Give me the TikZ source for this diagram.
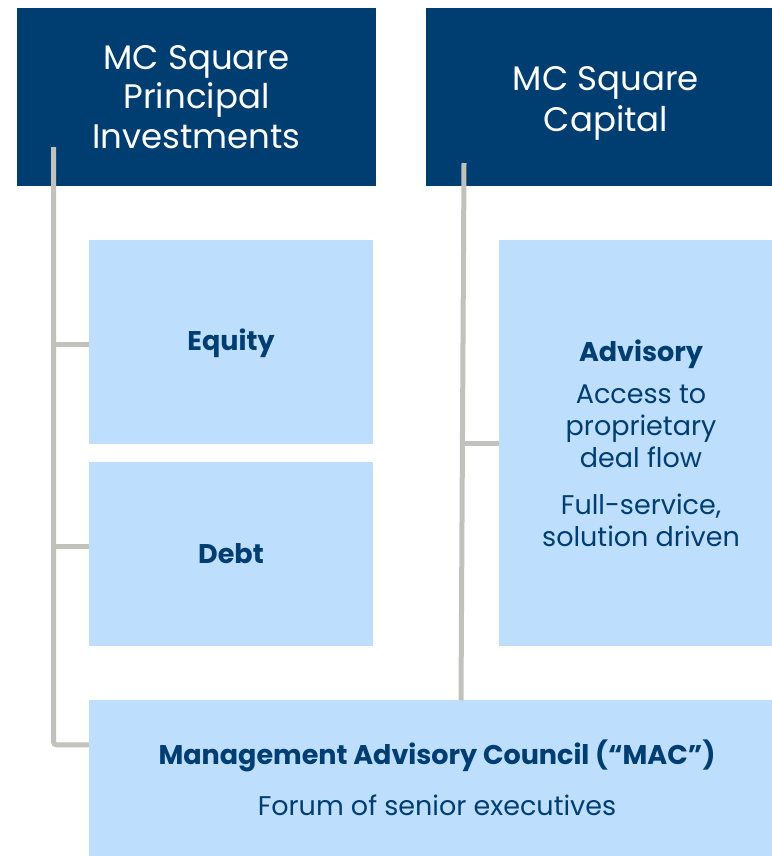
\documentclass[tikz,border=0pt]{standalone}
\usepackage{fontspec}
\setmainfont{Poppins}
\usetikzlibrary{calc}
\definecolor{navy}{RGB}{0,62,114}
\definecolor{pale}{RGB}{189,222,253}
\definecolor{conncol}{RGB}{192,194,187}
\tikzset{
  headbox/.style={fill=navy, text=white, inner sep=0pt, align=center,
    font=\fontsize{34}{39.5}\selectfont},
  subbox/.style={fill=pale, text=navy, inner sep=0pt, align=center,
    font=\fontsize{27}{32}\selectfont},
  conn/.style={draw=conncol, line width=5pt, rounded corners=3pt},
}
\begin{document}
\begin{tikzpicture}[x=1pt,y=-1pt]
\useasboundingbox (0,0) rectangle (771,856);
\node[headbox, minimum width=359pt, minimum height=178pt] (pi) at (196.5,97) {MC Square\\Principal\\Investments};
\node[headbox, minimum width=360pt, minimum height=178pt, font=\fontsize{34}{41}\selectfont] (cap) at (606,97) {\rule{0pt}{37pt}MC Square\\Capital};
\node[subbox, minimum width=284pt, minimum height=204pt] (equity) at (231,342) {\rule{0pt}{25pt}\textbf{Equity}};
\node[subbox, minimum width=284pt, minimum height=184pt] (debt) at (231,554) {\textbf{Debt}};
\node[subbox, minimum width=284pt, minimum height=406pt] (adv) at (641,443) {\textbf{Advisory}\\[10pt]Access to\\proprietary\\deal flow\\[15pt]Full-service,\\solution driven};
\node[subbox, minimum width=696pt, minimum height=156pt] (mac) at (437,778) {\textbf{Management Advisory Council (“MAC”)}\\[19pt]Forum of senior executives};
\coordinate (lt) at (53.5,147);
\coordinate (rt) at (464,163);
\draw[conn] (lt) |- ($(mac.north west)+(0,45)$);
\draw[conn] ($(lt |- equity.west)+(0,2)$) -- ($(equity.west)+(0,2)$);
\draw[conn] ($(lt |- debt.west)+(0,-8)$) -- ($(debt.west)+(0,-8)$);
\draw[conn, rounded corners=0pt] (rt) -- (461,700);
\draw[conn] (462.5,443.5) -- (adv.west |- 0,443.5);
\end{tikzpicture}
\end{document}
